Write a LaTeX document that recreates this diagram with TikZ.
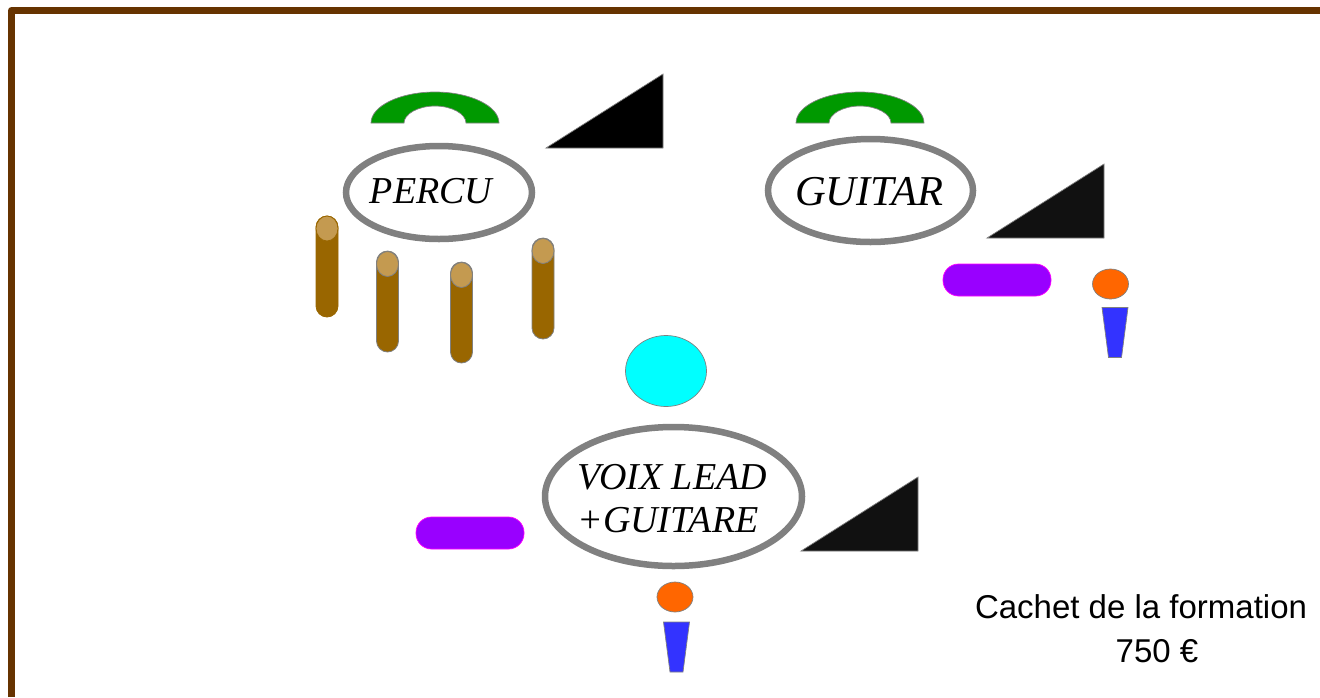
\documentclass[tikz,border=0pt]{standalone}
\usepackage{fontspec}
\setmainfont{Liberation Sans}
\newfontfamily\seriffont{Liberation Serif}
\usepackage{tikz}
\usetikzlibrary{shapes.geometric}
\definecolor{framebrown}{HTML}{663300}
\definecolor{woodbrown}{HTML}{996600}
\definecolor{woodtop}{HTML}{C49A50}
\definecolor{hatgreen}{HTML}{009900}
\definecolor{padpurple}{HTML}{9900FF}
\definecolor{micorange}{HTML}{FF6600}
\definecolor{micblue}{HTML}{3333FF}
\definecolor{wedgeblack}{HTML}{111111}
\definecolor{voicecyan}{HTML}{00FFFF}
\definecolor{padedge}{HTML}{FF00FF}
\tikzset{
  x=1pt,y=-1pt,
  bandnode/.style={draw=gray,line width=6.5pt,ellipse,inner sep=0pt,fill=white},
  bandname/.style={anchor=base,inner sep=0pt,font=\seriffont\itshape\fontsize{38}{40}\selectfont},
  wedge/.style={fill=wedgeblack,draw=gray,line width=0.7pt,line join=miter},
  headphone/.style={fill=hatgreen,draw=gray,line width=0.7pt},
  stickbody/.style={fill=woodbrown,draw=gray,line width=0.8pt,rounded corners=11pt,minimum width=22pt,minimum height=101pt,inner sep=0pt},
  sticktop/.style={fill=woodtop,draw=gray,line width=0.8pt,ellipse,minimum width=22pt,minimum height=25pt,inner sep=0pt},
  padnode/.style={fill=padpurple,draw=padedge,line width=0.7pt,rounded corners=15.5pt,minimum width=108pt,minimum height=32pt,inner sep=0pt},
  michead/.style={fill=micorange,draw=gray,line width=0.7pt,ellipse,minimum width=36pt,minimum height=30pt,inner sep=0pt},
  micbody/.style={fill=micblue,draw=gray,line width=0.7pt},
  pricetext/.style={anchor=base,inner sep=0pt,font=\fontsize{33}{38}\selectfont}
}
\begin{document}
\begin{tikzpicture}
    \useasboundingbox (0,0) rectangle (1320,697);
    \draw[framebrown,line width=7pt,line join=round] (11.5,697) -- (11.5,10.5) -- (1320,10.5);

    % percu
    \draw[headphone] (371,123) .. controls (371,106) and (400,92) .. (435,92) .. controls (470,92) and (499,106) .. (499,123)
        -- (466,123) .. controls (466,114) and (452,106) .. (435,106) .. controls (418,106) and (404,114) .. (404,123) -- cycle;
    \draw[wedge,fill=black] (546,148) -- (663,148) -- (663,74) -- cycle;
    \node[bandnode,minimum width=186pt,minimum height=93pt] (percu) at (439,192.5) {};
    \node[bandname] (percuname) at (431,203) {PERCU};
    \node[stickbody,draw=woodbrown] (stickA) at (327,266.5) {};
    \node[sticktop,draw=woodbrown] (topA) at (327,228.5) {};
    \node[stickbody] (stickB) at (387.5,301.5) {};
    \node[sticktop] (topB) at (387.5,264) {};
    \node[stickbody] (stickC) at (461.5,312.5) {};
    \node[sticktop] (topC) at (461.5,275) {};
    \node[stickbody] (stickD) at (543,288.5) {};
    \node[sticktop] (topD) at (543,251) {};

    % guitar
    \draw[headphone] (796,123) .. controls (796,106) and (825,92) .. (860,92) .. controls (895,92) and (924,106) .. (924,123)
        -- (891,123) .. controls (891,114) and (877,106) .. (860,106) .. controls (843,106) and (829,114) .. (829,123) -- cycle;
    \draw[wedge] (987,238) -- (1104,238) -- (1104,164) -- cycle;
    \node[bandnode,minimum width=205pt,minimum height=103pt] (guitar) at (870.5,190.5) {};
    \node[bandname,font=\seriffont\itshape\fontsize{42.5}{44}\selectfont] (guitarname) at (869,205) {GUITAR};
    \node[padnode] (padA) at (997,280) {};
    \node[michead] (headA) at (1110.5,284) {};
    \draw[micbody] (1102,307.5) -- (1128,307.5) -- (1121.5,357.5) -- (1108.5,357.5) -- cycle;

    % voix
    \node[ellipse,fill=voicecyan,draw=gray,line width=0.7pt,minimum width=81pt,minimum height=71pt,inner sep=0pt] (voice) at (666,371) {};
    \node[bandnode,minimum width=257pt,minimum height=139pt] (voix) at (673.5,496.5) {};
    \node[bandname] (voixlineA) at (672,489) {VOIX LEAD};
    \node[bandname] (voixlineB) at (668,532) {+GUITARE};
    \draw[wedge] (801,551) -- (918,551) -- (918,477) -- cycle;
    \node[padnode] (padB) at (470,533) {};
    \node[michead] (headB) at (675,597) {};
    \draw[micbody] (663.5,622) -- (689.5,622) -- (683,672) -- (670,672) -- cycle;

    % cachet
    \node[pricetext] (cachet) at (1141,618) {Cachet de la formation};
    \node[pricetext] (price) at (1157,662) {750 €};
\end{tikzpicture}
\end{document}
